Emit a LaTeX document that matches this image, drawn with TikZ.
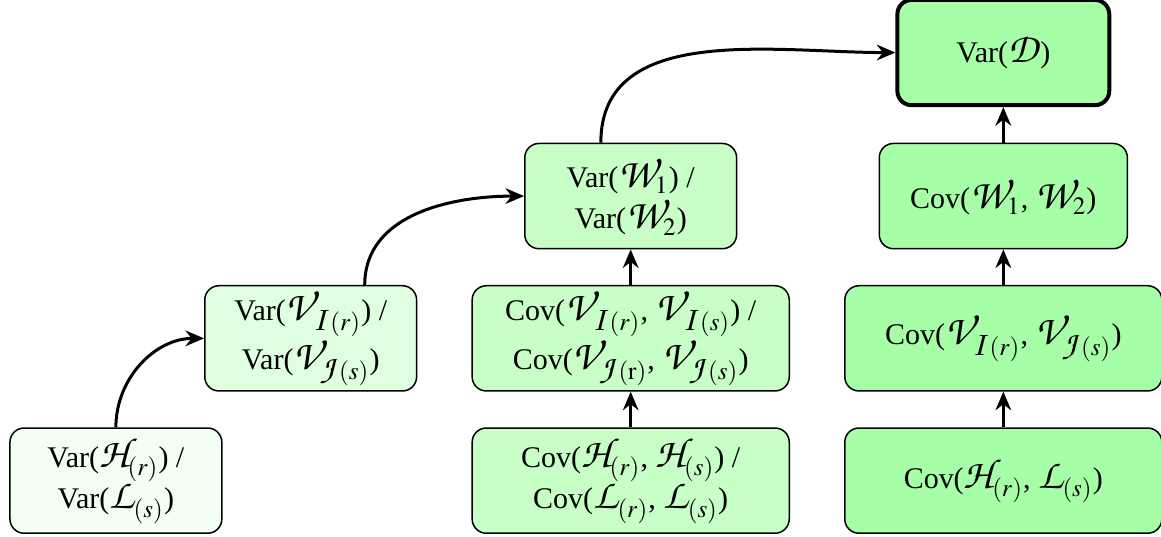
\documentclass[tikz,border=0pt]{standalone}
\usepackage{mathptmx}
\usepackage{fontspec}
\setmainfont{Liberation Serif}
\DeclareFontFamily{OT1}{pzcbig}{}
\DeclareFontShape{OT1}{pzcbig}{m}{it}{<-> s*[1.4] pzcmi7t}{}
\DeclareMathAlphabet{\mathpzc}{OT1}{pzcbig}{m}{it}
\DeclareMathSizes{12}{12}{10}{8}
\usetikzlibrary{positioning,arrows.meta}

\newcommand{\chan}[1]{\mathpzc{#1}}

\tikzset{
  quantity/.style={draw, semithick, rounded corners=2mm, align=center,
    minimum width=2.98cm, minimum height=1.48cm, inner sep=1pt,
    font=\fontsize{12}{16.5}\selectfont},
  wide/.style={minimum width=4.46cm},
  flow/.style={-{Stealth[length=2.6mm,width=2.2mm]}, very thick},
}

\begin{document}
\begin{tikzpicture}
  \useasboundingbox (0,0) rectangle (16.33,-7.55);

  % level 0
  \node [quantity, fill=green!5] (hl) at (1.63,-6.76)
    {Var($\chan{H}_{(r)}$) /\\ Var($\chan{L}_{(s)}$)};
  \node [quantity, wide, fill=green!22, right=3.5cm of hl] (chh)
    {Cov($\chan{H}_{(r)}$, $\chan{H}_{(s)}$) /\\ Cov($\chan{L}_{(r)}$, $\chan{L}_{(s)}$)};
  \node [quantity, wide, fill=green!35, right=0.76cm of chh] (chl)
    {Cov($\chan{H}_{(r)}$, $\chan{L}_{(s)}$)};

  % level 1
  \node [quantity, fill=green!12, above=5mm of hl, xshift=2.74cm] (vij)
    {Var($\chan{V}_{\chan{I}(r)}$) /\\ Var($\chan{V}_{\chan{J}(s)}$)};
  \node [quantity, wide, fill=green!22, above=5mm of chh] (cvv)
    {Cov($\chan{V}_{\chan{I}(r)}$, $\chan{V}_{\chan{I}(s)}$) /\\ Cov($\chan{V}_{\chan{J}(\mathrm{r})}$, $\chan{V}_{\chan{J}(s)}$)};
  \node [quantity, wide, fill=green!35, above=5mm of chl] (cvij)
    {Cov($\chan{V}_{\chan{I}(r)}$, $\chan{V}_{\chan{J}(s)}$)};

  % level 2
  \node [quantity, fill=green!22, above=5mm of cvv] (w12)
    {Var($\chan{W}_1$) /\\ Var($\chan{W}_2$)};
  \node [quantity, fill=green!35, minimum width=3.49cm, above=5mm of cvij] (cw)
    {Cov($\chan{W}_1$, $\chan{W}_2$)};

  % top
  \node [quantity, fill=green!35, ultra thick, above=5mm of cw] (d)
    {Var($\chan{D}$)};

  \draw [flow] (hl.north) to [out=90, in=180] (vij.west);
  \draw [flow] ([xshift=0.76cm]vij.north) to [out=90, in=180] (w12.west);
  \draw [flow] ([xshift=-0.42cm]w12.north) to [out=90, in=180] (d.west);
  \draw [flow] (chh) -- (cvv);
  \draw [flow] (cvv) -- (w12);
  \draw [flow] (chl) -- (cvij);
  \draw [flow] (cvij) -- (cw);
  \draw [flow] (cw) -- (d);
\end{tikzpicture}
\end{document}
